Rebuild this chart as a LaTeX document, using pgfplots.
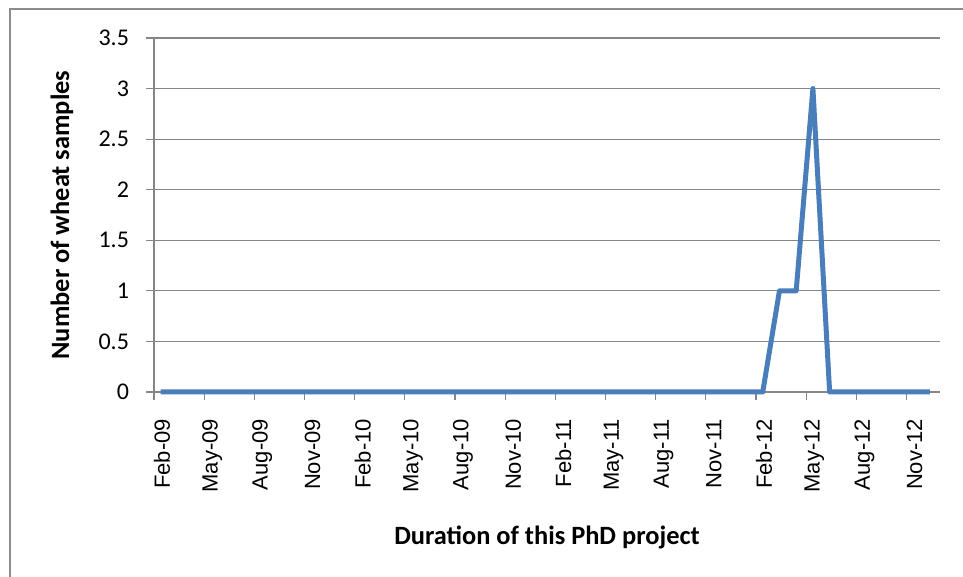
\documentclass[border=0pt]{standalone}
\usepackage{fontspec}
\setmainfont{Carlito}
\newfontfamily\arialf{Liberation Sans}
\usepackage{pgfplots}
\pgfplotsset{compat=1.18}
\definecolor{lineblue}{HTML}{4A7EBB}
\definecolor{gridgray}{HTML}{868686}
\definecolor{framegray}{HTML}{8C8C8C}

\begin{document}
\begin{tikzpicture}
\useasboundingbox (0,0) rectangle (481.5pt,288.5pt);
% outer chart frame (only top and left edges are visible in the crop)
\draw[color=framegray, line width=1pt] (5pt,0) -- (5pt,283.75pt) -- (481.5pt,283.75pt);
\begin{axis}[
    at={(77pt,92.5pt)}, anchor=south west,
    scale only axis,
    width=393pt, height=177pt,
    xmin=0, xmax=47,
    ymin=0, ymax=3.5,
    axis lines=left,
    axis line style={-, color=gridgray, line width=0.6pt},
    xtick={0,3,...,45},
    xticklabels={Feb-09,May-09,Aug-09,Nov-09,Feb-10,May-10,Aug-10,Nov-10,
                 Feb-11,May-11,Aug-11,Nov-11,Feb-12,May-12,Aug-12,Nov-12},
    ytick={0,0.5,...,3.5},
    tick align=outside,
    major tick length=4pt,
    tick style={color=gridgray, line width=0.6pt},
    ymajorgrids,
    grid style={color=gridgray, line width=0.6pt},
    /pgf/number format/assume math mode=true,
    yticklabel style={font=\fontsize{12}{14}\selectfont, xshift=-5pt},
    xticklabel style={font=\arialf\fontsize{11}{13}\selectfont, rotate=90, anchor=east, xshift=-6pt, yshift=-4pt},
    xlabel={\textbf{Duration of this PhD project}},
    ylabel={\textbf{Number of wheat samples}},
    label style={font=\fontsize{13.2}{15}\selectfont},
    xlabel style={at={(axis description cs:0.5,-0.41)}, anchor=center},
    ylabel style={at={(axis description cs:-0.117,0.5)}, anchor=center, rotate=0},
    clip=false,
]
\addplot[color=lineblue, line width=2.5pt, line join=round] coordinates {
    (0.4,0) (1.4,0) (2.4,0) (3.4,0) (4.4,0) (5.4,0) (6.4,0) (7.4,0)
    (8.4,0) (9.4,0) (10.4,0) (11.4,0) (12.4,0) (13.4,0) (14.4,0) (15.4,0)
    (16.4,0) (17.4,0) (18.4,0) (19.4,0) (20.4,0) (21.4,0) (22.4,0) (23.4,0)
    (24.4,0) (25.4,0) (26.4,0) (27.4,0) (28.4,0) (29.4,0) (30.4,0) (31.4,0)
    (32.4,0) (33.4,0) (34.4,0) (35.4,0) (36.4,0) (37.4,1) (38.4,1) (39.4,3)
    (40.4,0) (41.4,0) (42.4,0) (43.4,0) (44.4,0) (45.4,0) (46.4,0)
};
\end{axis}
\end{tikzpicture}
\end{document}
